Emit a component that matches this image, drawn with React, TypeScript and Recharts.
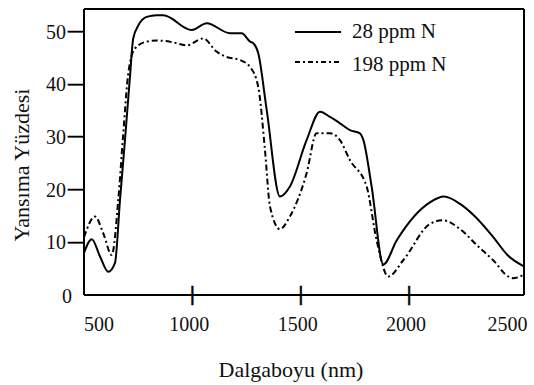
import React from 'react';
import { LineChart, Line, XAxis, YAxis, Legend, Label, ReferenceLine } from 'recharts';

// 28 ppm N (solid)
const wl28 = [500, 536, 574, 612, 643, 666, 689, 712, 727, 751, 789, 835, 866, 997, 1066, 1174, 1228, 1266, 1281, 1304, 1343, 1404, 1450, 1527, 1589, 1635, 1681, 1727, 1773, 1789, 1827, 1881, 1943, 2096, 2161, 2235, 2304, 2388, 2456, 2527];
const refl28 = [8.0, 10.6, 7.3, 4.4, 6.1, 18, 29.4, 41.4, 48.7, 51.2, 52.8, 53.1, 53.1, 50.3, 51.6, 49.7, 49.7, 48.1, 47.8, 45.9, 35.1, 18.7, 20.6, 29.4, 34.8, 33.8, 32.6, 31.3, 30.7, 29.4, 20.6, 5.8, 10.4, 17.6, 18.7, 17.3, 14.9, 11.0, 7.5, 5.5];

// 198 ppm N (dash-dot)
const wl198 = [500, 551, 589, 628, 658, 680, 704, 735, 789, 835, 897, 974, 1050, 1112, 1158, 1220, 1266, 1304, 1335, 1358, 1404, 1450, 1527, 1573, 1635, 1681, 1727, 1804, 1850, 1904, 1973, 2096, 2156, 2235, 2319, 2388, 2458, 2480, 2527];
const refl198 = [11.0, 14.9, 11.7, 7.6, 18, 30, 42, 46.8, 48.1, 48.3, 48.1, 47.4, 48.7, 46.2, 45.2, 44.6, 43.3, 39.5, 27.5, 16.8, 12.5, 14.9, 23.1, 30.7, 30.7, 29.4, 25.6, 20.6, 10.4, 3.5, 6.6, 13.5, 14.2, 12.5, 9.2, 6.6, 3.5, 3.2, 3.8];

const xTicks = [500, 1000, 1500, 2000, 2500];
const yTicks = [0, 10, 20, 30, 40, 50];
const xDomain = [500, 2530];
const yDomain = [0, 54.3];

const seriesNames = ['28 ppm N', '198 ppm N'];
const seriesDash = [undefined, '5 3 2 3'];

const SERIF = 'Liberation Serif';

const data28 = wl28.map((w, i) => ({ wl: w, r: refl28[i] }));
const data198 = wl198.map((w, i) => ({ wl: w, r: refl198[i] }));

// tick marks are drawn as glyphs: shapes inside tick groups don't show up here
const XTick = (props: any) => {
  const { x, y, payload } = props;
  const v = payload.value;
  const first = v === xTicks[0];
  const last = v === xTicks[xTicks.length - 1];
  return (
    <g>
      {!first && !last && (
        <text x={x} y={y + 6} textAnchor="middle" fontFamily="Liberation Sans" fontSize={20} fill="#000" stroke="#000" strokeWidth={0.5} aria-hidden="true">
          |
        </text>
      )}
      <text
        x={first ? x : last ? x - 10 : x - 3}
        y={y + 36}
        textAnchor={first ? 'start' : 'middle'}
        fontFamily={SERIF}
        fontSize={20}
        fill="#111"
      >
        {v}
      </text>
    </g>
  );
};

const YTick = (props: any) => {
  const { x, y, payload } = props;
  const v = payload.value;
  return (
    <g>
      {v !== 0 && (
        <text
          x={x - 16}
          y={y + 4.3}
          textLength={16}
          lengthAdjust="spacingAndGlyphs"
          fontFamily="Liberation Sans"
          fontSize={16}
          fill="#000"
          stroke="#000"
          strokeWidth={0.8}
          aria-hidden="true"
        >
          —
        </text>
      )}
      <text
        x={v === 0 ? x - 12 : x - 18}
        y={v === 0 ? y + 8 : y + 7}
        textAnchor="end"
        fontFamily={SERIF}
        fontSize={20}
        fill="#111"
      >
        {v}
      </text>
    </g>
  );
};

const LegendBox = () => (
  <svg width={200} height={80}>
    {seriesNames.map((name, i) => (
      <g key={name}>
        <line
          x1={5}
          x2={51}
          y1={32 + i * 30}
          y2={32 + i * 30}
          stroke="#000"
          strokeWidth={2}
          strokeDasharray={seriesDash[i]}
        />
        <text x={62} y={38 + i * 33} fontFamily={SERIF} fontSize={21} fill="#111">
          {name}
        </text>
      </g>
    ))}
  </svg>
);

export default function App() {
  return (
    <div style={{ position: 'absolute', left: 0, top: 0, background: '#fff' }}>
      <LineChart width={534} height={385} margin={{ top: 9, right: 10, bottom: 0, left: 0 }}>
        <XAxis
          dataKey="wl"
          type="number"
          domain={xDomain}
          ticks={xTicks}
          height={90}
          tickSize={0}
          tickMargin={0}
          tickLine={false}
          tick={XTick}
          axisLine={{ stroke: '#000', strokeWidth: 2 }}
        >
          <Label
            content={() => (
              <text x={291} y={377} textAnchor="middle" fontFamily={SERIF} fontSize={22} fill="#111">
                Dalgaboyu (nm)
              </text>
            )}
          />
        </XAxis>
        <YAxis
          type="number"
          domain={yDomain}
          ticks={yTicks}
          width={84}
          tickSize={0}
          tickMargin={0}
          tickLine={false}
          tick={YTick}
          axisLine={{ stroke: '#000', strokeWidth: 2 }}
        >
          <Label
            content={() => (
              <text
                x={29}
                y={165}
                transform="rotate(-90 29 165)"
                textAnchor="middle"
                fontFamily={SERIF}
                fontSize={22}
                fill="#111"
              >
                Yansıma Yüzdesi
              </text>
            )}
          />
        </YAxis>
        <ReferenceLine y={yDomain[1]} stroke="#000" strokeWidth={2} />
        <ReferenceLine x={xDomain[1]} stroke="#000" strokeWidth={2} />
        <Legend
          layout="horizontal"
          verticalAlign="middle"
          align="center"
          content={<LegendBox />}
          wrapperStyle={{ position: 'absolute', left: 290, top: 0, width: 200, height: 80 }}
        />
        <Line
          data={data28}
          dataKey="r"
          name={seriesNames[0]}
          type="monotone"
          stroke="#000"
          strokeWidth={2}
          dot={false}
          isAnimationActive={false}
        />
        <Line
          data={data198}
          dataKey="r"
          name={seriesNames[1]}
          type="monotone"
          stroke="#000"
          strokeWidth={2}
          strokeDasharray="6 3 2 3"
          dot={false}
          isAnimationActive={false}
        />
      </LineChart>
    </div>
  );
}
